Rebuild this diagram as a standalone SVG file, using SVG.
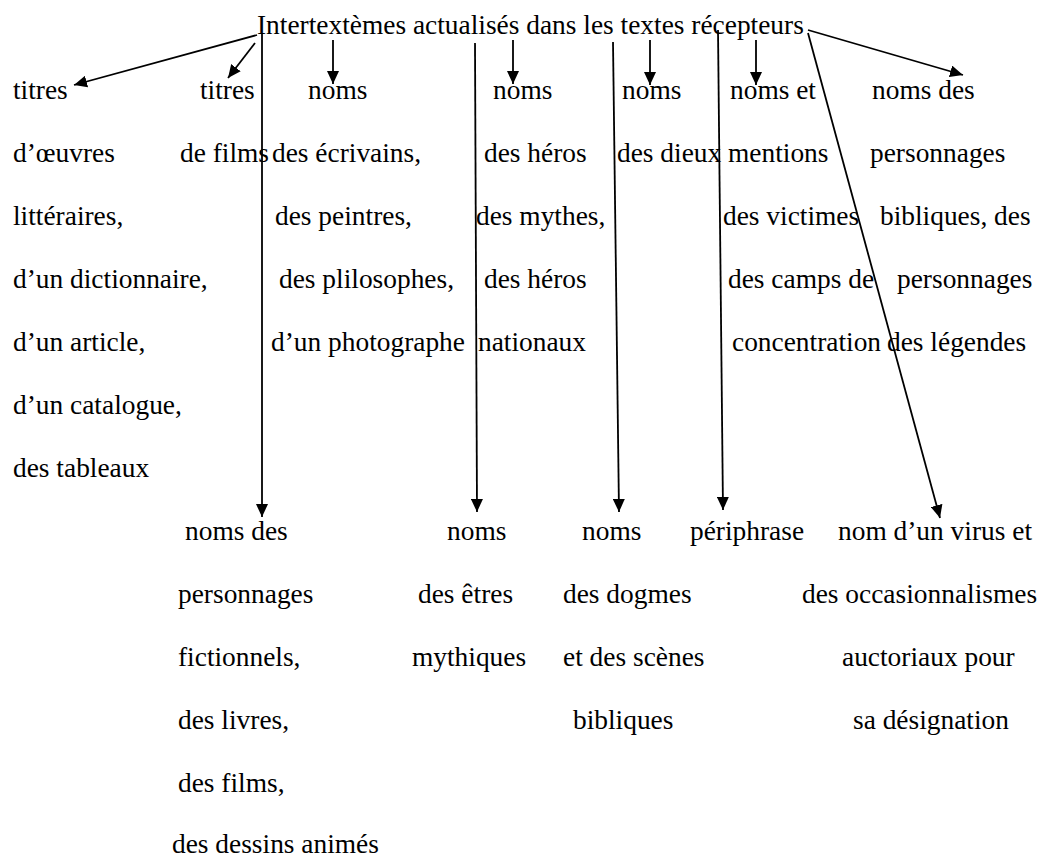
<svg xmlns="http://www.w3.org/2000/svg" width="1040" height="858" viewBox="0 0 1040 858">
<style>
text{font-family:"Liberation Serif","Times New Roman",serif;font-size:27.4px;fill:#000}
.c line{stroke:#000;stroke-width:1.8;fill:none}
</style>
<defs>
<marker id="ah" markerUnits="userSpaceOnUse" markerWidth="14" markerHeight="12" refX="13" refY="6" orient="auto">
<path d="M0,0 L13,6 L0,12 Z" fill="#000"/>
</marker>
</defs>
<rect width="1040" height="858" fill="#fff"/>
<g id="root"><text x="257" y="34">Intertextèmes actualisés dans les textes récepteurs</text></g>
<g class="c" id="connectors">
<line x1="257" y1="35" x2="74" y2="85" marker-end="url(#ah)"/>
<line x1="255" y1="43" x2="228" y2="78" marker-end="url(#ah)"/>
<line x1="262" y1="33" x2="262" y2="517" marker-end="url(#ah)"/>
<line x1="333" y1="40" x2="333" y2="84" marker-end="url(#ah)"/>
<line x1="475" y1="43" x2="477" y2="512" marker-end="url(#ah)"/>
<line x1="513" y1="40" x2="513" y2="84" marker-end="url(#ah)"/>
<line x1="613" y1="42" x2="619" y2="512" marker-end="url(#ah)"/>
<line x1="650" y1="40" x2="650" y2="85" marker-end="url(#ah)"/>
<line x1="718" y1="30" x2="723" y2="510" marker-end="url(#ah)"/>
<line x1="756" y1="40" x2="756" y2="85" marker-end="url(#ah)"/>
<line x1="808" y1="30" x2="963" y2="75" marker-end="url(#ah)"/>
<line x1="808" y1="33" x2="940" y2="518" marker-end="url(#ah)"/>
</g>
<g id="n1"><text x="13" y="99">titres</text><text x="13" y="162">d’œuvres</text><text x="13" y="225">littéraires,</text><text x="13" y="288">d’un dictionnaire,</text><text x="13" y="351">d’un article,</text><text x="13" y="414">d’un catalogue,</text><text x="13" y="477">des tableaux</text></g>
<g id="n2"><text x="200" y="99">titres</text><text x="180" y="162">de films</text></g>
<g id="n3"><text x="308" y="99">noms</text><text x="272" y="162">des écrivains,</text><text x="275" y="225">des peintres,</text><text x="279" y="288">des plilosophes,</text><text x="271" y="351">d’un photographe</text></g>
<g id="n4"><text x="493" y="99">noms</text><text x="484" y="162">des héros</text><text x="476" y="225">des mythes,</text><text x="484" y="288">des héros</text><text x="478" y="351">nationaux</text></g>
<g id="n5"><text x="622" y="99">noms</text><text x="617" y="162">des dieux</text></g>
<g id="n6"><text x="730" y="99">noms et</text><text x="728" y="162">mentions</text><text x="723" y="225">des victimes</text><text x="728" y="288">des camps de</text><text x="732" y="351">concentration</text></g>
<g id="n7"><text x="872" y="99">noms des</text><text x="870" y="162">personnages</text><text x="880" y="225">bibliques, des</text><text x="897" y="288">personnages</text><text x="887" y="351">des légendes</text></g>
<g id="n8"><text x="185" y="540">noms des</text><text x="178" y="603">personnages</text><text x="178" y="666">fictionnels,</text><text x="178" y="729">des livres,</text><text x="178" y="792">des films,</text><text x="172" y="853">des dessins animés</text></g>
<g id="n9"><text x="447" y="540">noms</text><text x="418" y="603">des êtres</text><text x="412" y="666">mythiques</text></g>
<g id="n10"><text x="582" y="540">noms</text><text x="563" y="603">des dogmes</text><text x="563" y="666">et des scènes</text><text x="573" y="729">bibliques</text></g>
<g id="n11"><text x="690" y="540">périphrase</text></g>
<g id="n12"><text x="838" y="540">nom d’un virus et</text><text x="802" y="603">des occasionnalismes</text><text x="842" y="666">auctoriaux pour</text><text x="853" y="729">sa désignation</text></g>
</svg>
